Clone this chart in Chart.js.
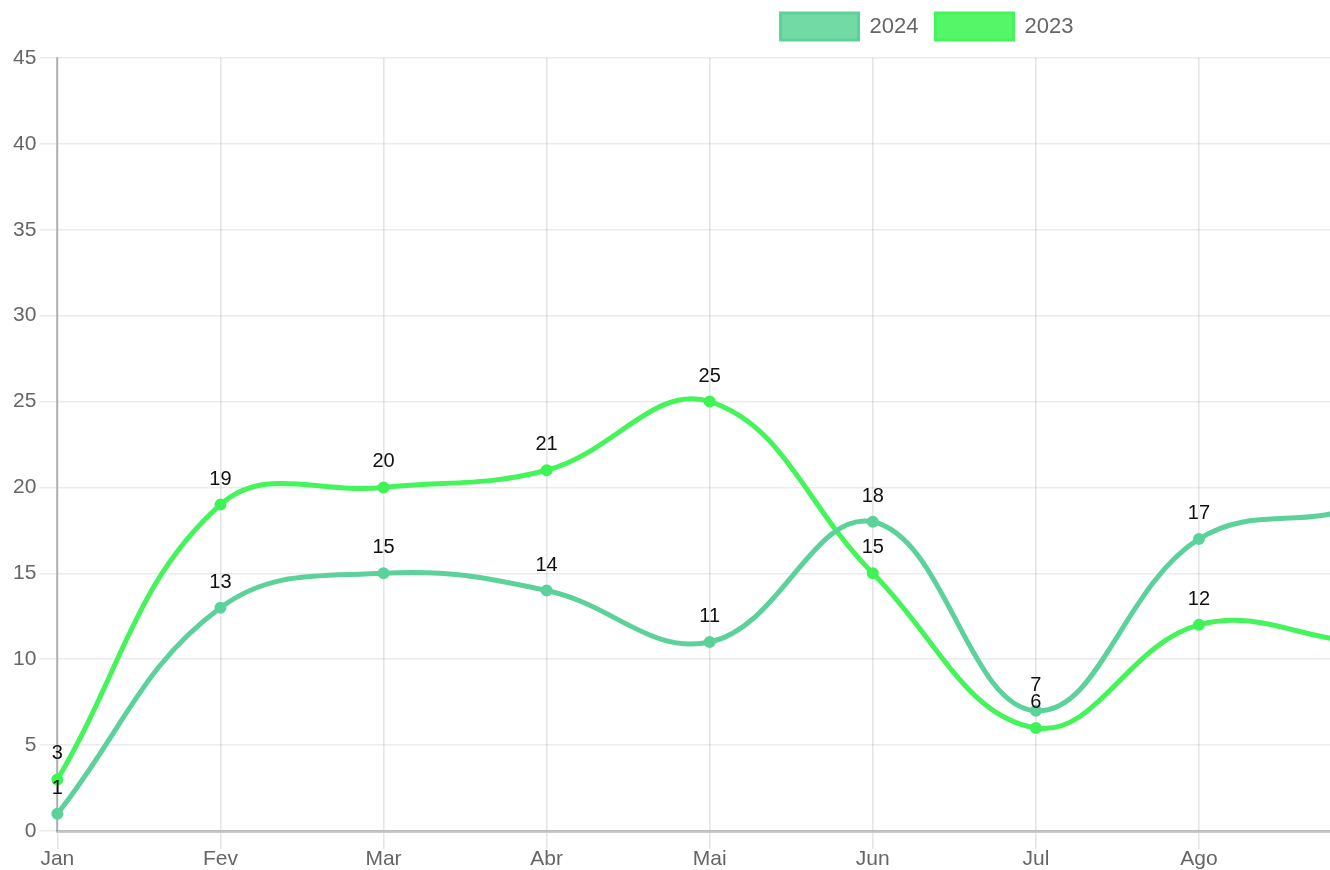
<!DOCTYPE html>
<html>
<head>
<meta charset="utf-8">
<script src="https://cdn.jsdelivr.net/npm/chart.js@4.4.1/dist/chart.umd.min.js"></script>
<style>
  html, body { margin: 0; padding: 0; overflow: hidden; background: #fff; }
  #chart-wrap { width: 1330px; height: 870px; overflow: hidden; }
</style>
</head>
<body>
<div id="chart-wrap">
  <canvas id="vendasChart" width="1870" height="870"></canvas>
</div>
<script>
// dados
const meses = ["Jan", "Fev", "Mar", "Abr", "Mai", "Jun", "Jul", "Ago", "Set", "Out", "Nov", "Dez"];
const valores2024 = [1, 13, 15, 14, 11, 18, 7, 17, 19, 25, 22, 20];
const valores2023 = [3, 19, 20, 21, 25, 15, 6, 12, 11, 11, 13, 12];
const yTicks = [0, 5, 10, 15, 20, 25, 30, 35, 40, 45];

const FONT = "'Liberation Sans', Arial, Helvetica, sans-serif";

// rótulos acima dos pontos
const valueLabels = {
  id: "valueLabels",
  afterDatasetsDraw(chart) {
    const ctx = chart.ctx;
    ctx.save();
    ctx.font = "20px " + FONT;
    ctx.fillStyle = "#111";
    ctx.textAlign = "center";
    ctx.textBaseline = "alphabetic";
    chart.data.datasets.forEach((ds, i) => {
      const meta = chart.getDatasetMeta(i);
      meta.data.forEach((pt, j) => {
        ctx.fillText(ds.data[j], pt.x, pt.y - 20);
      });
    });
    ctx.restore();
  },
};

// altura da legenda e deslocamento
const legendSpace = {
  id: "legendSpace",
  beforeInit(chart) {
    const fit = chart.legend.fit;
    chart.legend.fit = function () {
      fit.bind(chart.legend)();
      this.height = 58;
    };
  },
  afterLayout(chart) {
    chart.legend.left -= 13;
    chart.legend.right -= 13;
    chart.legend.top -= 4;
  },
};

const ctx = document.getElementById("vendasChart").getContext("2d");
new Chart(ctx, {
  type: "line",
  data: {
    labels: meses,
    datasets: [
      {
        label: "2024",
        data: valores2024,
        borderColor: "#5cd29a",
        backgroundColor: "#72daa5",
        pointBackgroundColor: "#5cd29a",
        pointBorderColor: "#5cd29a",
        borderWidth: 5,
        pointRadius: 5,
        pointBorderWidth: 2,
        fill: false,
        tension: 0.4,
      },
      {
        label: "2023",
        data: valores2023,
        borderColor: "#45f45a",
        backgroundColor: "#55f768",
        pointBackgroundColor: "#3ef455",
        pointBorderColor: "#3ef455",
        borderWidth: 5,
        pointRadius: 5,
        pointBorderWidth: 2,
        fill: false,
        tension: 0.4,
      },
    ],
  },
  options: {
    responsive: false,
    animation: false,
    devicePixelRatio: 1,
    layout: { padding: { left: 10, right: 0, top: 0, bottom: 0 } },
    plugins: {
      legend: {
        position: "top",
        labels: {
          boxWidth: 78,
          boxHeight: 27,
          padding: 17,
          color: "#666",
          font: { size: 22, family: FONT },
          generateLabels(chart) {
            const items = Chart.defaults.plugins.legend.labels.generateLabels(chart);
            items.forEach((it) => (it.lineWidth = 3));
            return items;
          },
        },
      },
      tooltip: { enabled: false },
    },
    scales: {
      x: {
        grid: {
          color: "rgba(0,0,0,0.1)",
          lineWidth: 1.6,
          tickLength: 18,
        },
        border: { color: "rgba(0,0,0,0.2)", width: 3 },
        ticks: {
          color: "#666",
          padding: 0,
          font: { size: 21, family: FONT, lineHeight: 1 },
          maxRotation: 0,
          autoSkip: false,
        },
      },
      y: {
        min: yTicks[0],
        max: yTicks[yTicks.length - 1],
        afterBuildTicks(axis) {
          axis.ticks = yTicks.map((v) => ({ value: v }));
        },
        grid: {
          color: "rgba(0,0,0,0.08)",
          lineWidth: 1.6,
          tickLength: 18,
        },
        border: { color: "rgba(0,0,0,0.25)", width: 2 },
        ticks: {
          color: "#666",
          padding: 3,
          font: { size: 21, family: FONT },
        },
      },
    },
  },
  plugins: [valueLabels, legendSpace],
});
</script>
</body>
</html>
